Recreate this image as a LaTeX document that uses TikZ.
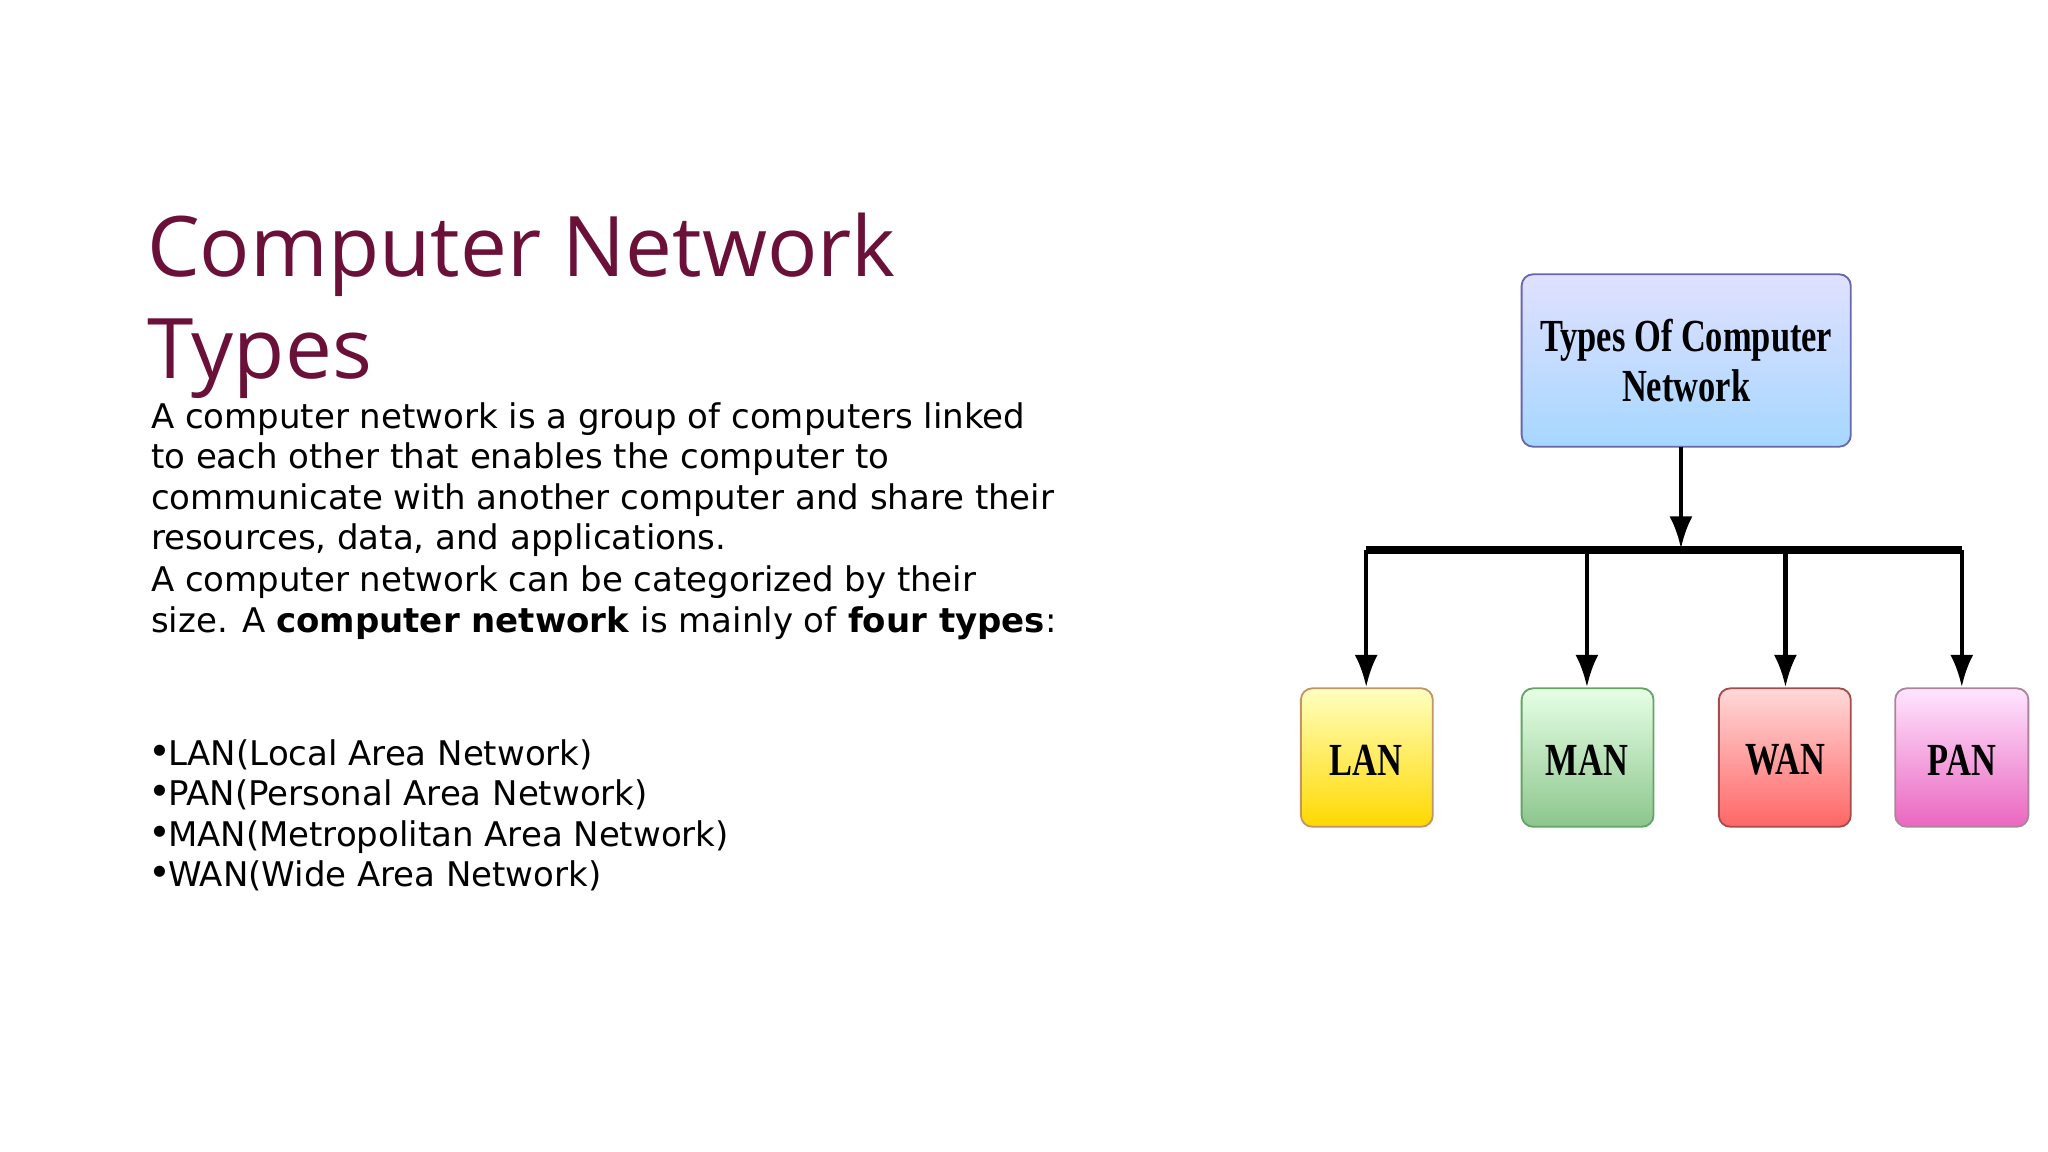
\documentclass[tikz,border=0pt]{standalone}
\usepackage{fontspec}
\setmainfont{DejaVu Sans}
\newfontfamily\titlefont{Open Sans}
\newfontfamily\boxfont{Liberation Serif}
\usetikzlibrary{arrows.meta}
\definecolor{maroon}{HTML}{6B1038}
\tikzset{
 txt/.style={anchor=base west,inner sep=0pt,font=\fontsize{7.4pt}{8.9pt}\selectfont},
 box/.style={rounded corners=2.5pt,line width=0.4pt,inner sep=0pt},
 lbl/.style={font=\boxfont\fontsize{10pt}{12pt}\selectfont\bfseries,xscale=0.75},
 arr/.style={line width=0.9pt,-{Latex[length=7pt,width=5pt]}}
}
\begin{document}
\begin{tikzpicture}[x=0.01cm,y=-0.01cm]
\useasboundingbox (0,0) rectangle (1568,882);
\node[anchor=base west,inner sep=0pt,text=maroon,font=\titlefont\fontsize{18.2pt}{22pt}\selectfont] (t1) at (112,212) {Computer Network};
\node[anchor=base west,inner sep=0pt,text=maroon,font=\titlefont\fontsize{18.2pt}{22pt}\selectfont] (t2) at (112,290) {Types};
\node[txt] (b1) at (115,328) {A computer network is a group of computers linked};
\node[txt] (b2) at (115,359) {to each other that enables the computer to};
\node[txt] (b3) at (115,390) {communicate with another computer and share their};
\node[txt] (b4) at (115,421) {resources, data, and applications.};
\node[txt] (b5) at (115,453) {A computer network can be categorized by their};
\node[txt] (b6) at (115,484) {size. A \textbf{computer network} is mainly of \textbf{four types}:};
\node[txt] (l1) at (115,586) {\raisebox{0.5ex}{\tiny$\bullet$}LAN(Local Area Network)};
\node[txt] (l2) at (115,617) {\raisebox{0.5ex}{\tiny$\bullet$}PAN(Personal Area Network)};
\node[txt] (l3) at (115,648) {\raisebox{0.5ex}{\tiny$\bullet$}MAN(Metropolitan Area Network)};
\node[txt] (l4) at (115,679) {\raisebox{0.5ex}{\tiny$\bullet$}WAN(Wide Area Network)};
% boxes
\draw[box,draw=blue!50!black!60,top color=blue!12,bottom color=blue!45!cyan!35] (1165,210) rectangle (1417,342);
\node[lbl,align=center] (top) at (1291,276) {Types Of Computer\\[-1pt]Network};
\coordinate (topb) at (1287,342);
\draw[box,draw=orange!60!black!60,top color=yellow!25,bottom color=yellow!70!orange] (996,527) rectangle (1097,633);
\node[lbl] (lan) at (1046,582) {LAN};
\draw[box,draw=green!40!black!60,top color=green!10,bottom color=green!50!black!45] (1165,527) rectangle (1266,633);
\node[lbl] (man) at (1215,582) {MAN};
\draw[box,draw=red!50!black!70,top color=red!15,bottom color=red!60] (1316,527) rectangle (1417,633);
\node[lbl] (wan) at (1367,582) {WAN};
\draw[box,draw=magenta!40!black!60,top color=magenta!10,bottom color=magenta!45!purple!60] (1451,527) rectangle (1553,633);
\node[lbl] (pan) at (1502,582) {PAN};
\coordinate (jl) at (1046,421); \coordinate (jr) at (1502,421);
\coordinate (jm) at (1215,421); \coordinate (jw) at (1367,421);
\draw[line width=1.8pt] (jl) -- (jr);
\draw[arr] (topb) -- (1287,420);
\draw[arr] (jl) -- (1046,526);
\draw[arr] (jm) -- (1215,526);
\draw[arr] (jw) -- (1367,526);
\draw[arr] (jr) -- (1502,526);
\end{tikzpicture}
\end{document}
